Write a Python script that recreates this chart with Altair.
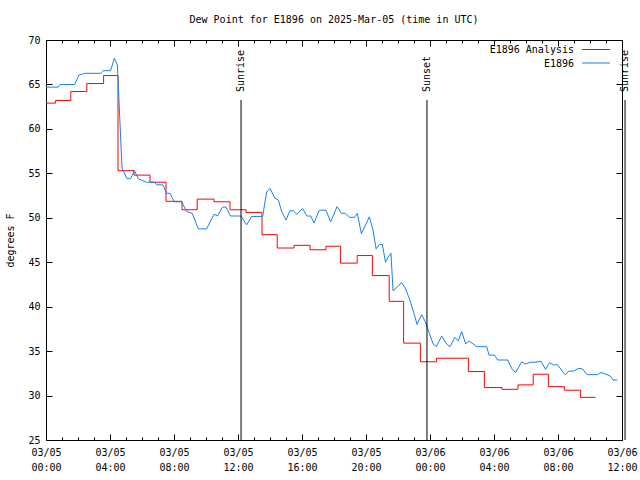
import altair as alt
import pandas as pd

FONT = "DejaVu Sans Mono"
TITLE = "Dew Point for E1896 on 2025-Mar-05 (time in UTC)"
Y_TITLE = "degrees F"

# x is hours since 2025-03-05 00:00 UTC
tick_hours = [0, 4, 8, 12, 16, 20, 24, 28, 32, 36]
tick_dates = ["03/05", "03/05", "03/05", "03/05", "03/05", "03/05",
              "03/06", "03/06", "03/06", "03/06"]
tick_times = ["00:00", "04:00", "08:00", "12:00", "16:00", "20:00",
              "00:00", "04:00", "08:00", "12:00"]
minor_hours = list(range(0, 37))
y_ticks = [25, 30, 35, 40, 45, 50, 55, 60, 65, 70]

series_names = ["E1896 Analysis", "E1896"]
series_colors = ["#ff0000", "#1482f0"]

# E1896 observations
obs_hours = [0.0, 0.75, 0.88, 1.79, 2.06, 2.42, 3.42, 3.58, 4.04, 4.27,
             4.46, 4.75, 5.06, 5.28, 5.53, 5.77, 6.27, 6.78, 6.92, 7.31,
             7.54, 7.75, 8.01, 8.48, 8.79, 9.14, 9.52, 10.04, 10.5, 10.72,
             11.03, 11.25, 11.53, 12.19, 12.54, 12.86, 13.54, 13.79, 14.0, 14.31,
             14.52, 14.73, 15.0, 15.25, 15.46, 15.67, 16.04, 16.29, 16.54, 16.75,
             17.08, 17.5, 17.79, 18.19, 18.47, 18.72, 18.97, 19.28, 19.46, 19.71,
             20.21, 20.44, 20.63, 20.83, 21.02, 21.22, 21.39, 21.56, 21.69, 21.89,
             22.21, 22.44, 22.71, 23.0, 23.19, 23.48, 23.71, 23.96, 24.21, 24.41,
             24.73, 25.04, 25.25, 25.56, 25.77, 25.98, 26.23, 26.44, 26.92, 27.54,
             27.69, 28.02, 28.23, 28.86, 29.14, 29.36, 29.73, 29.98, 30.25, 30.56,
             30.94, 31.22, 31.47, 31.71, 31.97, 32.44, 32.68, 32.96, 33.28, 33.53,
             33.81, 34.47, 34.69, 35.0, 35.27, 35.44, 35.71]
obs_values = [64.7, 64.7, 65.0, 65.0, 66.05, 66.25, 66.25, 66.55, 66.55, 67.95,
              67.2, 55.6, 54.4, 54.4, 55.3, 54.4, 54.0, 54.0, 53.7, 53.7,
              52.75, 52.75, 51.8, 51.8, 50.7, 50.5, 48.75, 48.75, 50.4, 50.2,
              51.2, 51.2, 50.2, 50.2, 49.2, 50.15, 50.15, 52.9, 53.3, 52.2,
              52.0, 50.7, 49.75, 50.8, 50.8, 50.4, 51.05, 50.2, 50.2, 49.4,
              50.85, 50.85, 49.55, 51.25, 50.5, 50.5, 50.05, 50.05, 50.5, 48.2,
              50.1, 48.6, 46.5, 47.0, 47.0, 45.0, 45.6, 46.0, 41.8, 42.1,
              42.7, 42.15, 40.9, 39.25, 38.0, 39.1, 38.3, 37.0, 35.75, 35.55,
              36.7, 35.8, 35.5, 36.55, 36.15, 37.2, 35.8, 36.15, 35.5, 35.5,
              34.55, 34.55, 34.0, 34.0, 32.95, 32.6, 33.8, 33.55, 33.75, 33.75,
              33.85, 32.95, 33.7, 33.45, 33.45, 32.35, 32.75, 32.75, 33.05, 33.0,
              32.35, 32.35, 32.6, 32.4, 32.2, 31.75, 31.75]

# E1896 Analysis (hourly steps)
ana_hours = [0.0, 0.6, 1.55, 2.55, 3.6, 4.5, 5.5, 6.5, 7.5, 8.5,
             9.45, 10.5, 11.5, 12.5, 13.5, 14.45, 15.5, 16.5, 17.5, 18.4,
             19.45, 20.4, 21.45, 22.35, 23.4, 24.4, 26.4, 27.4, 28.5, 29.5,
             30.45, 31.4, 32.4, 33.4, 34.35]
ana_values = [62.9, 63.2, 64.2, 65.1, 66.0, 55.3, 54.8, 54.0, 51.85, 50.9,
              52.1, 51.8, 50.9, 50.6, 48.1, 46.6, 46.9, 46.4, 46.8, 44.9,
              45.75, 43.5, 40.6, 35.9, 33.8, 34.2, 32.7, 30.9, 30.7, 31.2,
              32.4, 31.0, 30.6, 29.8, 29.8]

event_names = ["Sunrise", "Sunset", "Sunrise"]
event_hours = [12.19, 23.81, 36.19]

obs = pd.DataFrame({"hour": obs_hours, "dewpoint": obs_values})
ana = pd.DataFrame({"hour": ana_hours, "dewpoint": ana_values})
events = pd.DataFrame({"hour": event_hours, "name": event_names})
legend_df = pd.DataFrame({"name": series_names, "color": series_colors})

x_scale = alt.Scale(domain=[0, 36], nice=False, zero=False)
y_scale = alt.Scale(domain=[25, 70], nice=False, zero=False)

hours_js = "[" + ",".join(str(h) for h in tick_hours) + "]"
dates_js = "[" + ",".join("'%s'" % d for d in tick_dates) + "]"
times_js = "[" + ",".join("'%s'" % t for t in tick_times) + "]"
label_expr = "[%s[indexof(%s, datum.value)], %s[indexof(%s, datum.value)]]" % (
    dates_js, hours_js, times_js, hours_js)

common = dict(domain=False, grid=False, tickColor="black", tickWidth=1,
              labelFont=FONT, labelFontSize=10, labelColor="black")

x_bottom_major = alt.Axis(orient="bottom", values=tick_hours, offset=-6, tickSize=6,
                          labelExpr=label_expr, labelPadding=7, labelLineHeight=15,
                          labelFlush=False, labelOverlap=False, labelBaseline="top",
                          title=None, **common)
x_top_major = alt.Axis(orient="top", values=tick_hours, offset=-6, tickSize=6,
                       labels=False, title=None, **common)
x_bottom_minor = alt.Axis(orient="bottom", values=minor_hours, offset=-3, tickSize=3,
                          labels=False, title=None, **common)
x_top_minor = alt.Axis(orient="top", values=minor_hours, offset=-3, tickSize=3,
                       labels=False, title=None, **common)
y_left = alt.Axis(orient="left", values=y_ticks, offset=-6, tickSize=6, labelPadding=6,
                  labelFlush=False, labelOverlap=False, title=Y_TITLE,
                  titleFont=FONT, titleFontSize=10, titleFontWeight="normal",
                  titleColor="black", titlePadding=12, **common)
y_right = alt.Axis(orient="right", values=y_ticks, offset=-6, tickSize=6,
                   labels=False, title=None, **common)

red = alt.Chart(ana).mark_line(color=series_colors[0], strokeWidth=1,
                               interpolate="step-after").encode(
    x=alt.X("hour:Q", scale=x_scale, axis=x_top_major),
    y=alt.Y("dewpoint:Q", scale=y_scale, axis=y_right),
)
blue = alt.Chart(obs).mark_line(color=series_colors[1], strokeWidth=1).encode(
    x=alt.X("hour:Q", scale=x_scale, axis=x_bottom_major),
    y=alt.Y("dewpoint:Q", scale=y_scale, axis=y_left),
)
rules = alt.Chart(events).mark_rule(color="black", strokeWidth=1).encode(
    x=alt.X("hour:Q", scale=x_scale, axis=x_bottom_minor),
    y=alt.value(60), y2=alt.value(400),
)
labels = alt.Chart(events).mark_text(angle=270, align="left", baseline="middle",
                                     font=FONT, fontSize=10, color="black").encode(
    x=alt.X("hour:Q", scale=x_scale, axis=x_top_minor),
    y=alt.value(52),
    text="name:N",
)

legend_layers = []
for i in range(len(series_names)):
    row = legend_df.iloc[[i]]
    ypos = 10 + 13.5 * i
    legend_layers.append(
        alt.Chart(row).mark_text(align="right", baseline="middle", font=FONT,
                                 fontSize=10, color="black").encode(
            x=alt.value(528), y=alt.value(ypos), text="name:N"))
    legend_layers.append(
        alt.Chart(row).mark_rule(color=series_colors[i], strokeWidth=1).encode(
            x=alt.value(536), x2=alt.value(564), y=alt.value(ypos - 0.5)))

chart = alt.layer(red, blue, rules, labels, *legend_layers).resolve_axis(
    x="independent", y="independent"
).properties(
    width=576, height=400,
    title=alt.TitleParams(TITLE, font=FONT, fontSize=10, fontWeight="normal",
                          color="black", anchor="middle", offset=10),
    padding={"left": 46, "top": 40, "right": 18, "bottom": 40},
    autosize=alt.AutoSizeParams(type="none"),
).configure_view(stroke="black", strokeWidth=1)

chart.save("out.html", embed_options={"renderer": "svg", "actions": False})
